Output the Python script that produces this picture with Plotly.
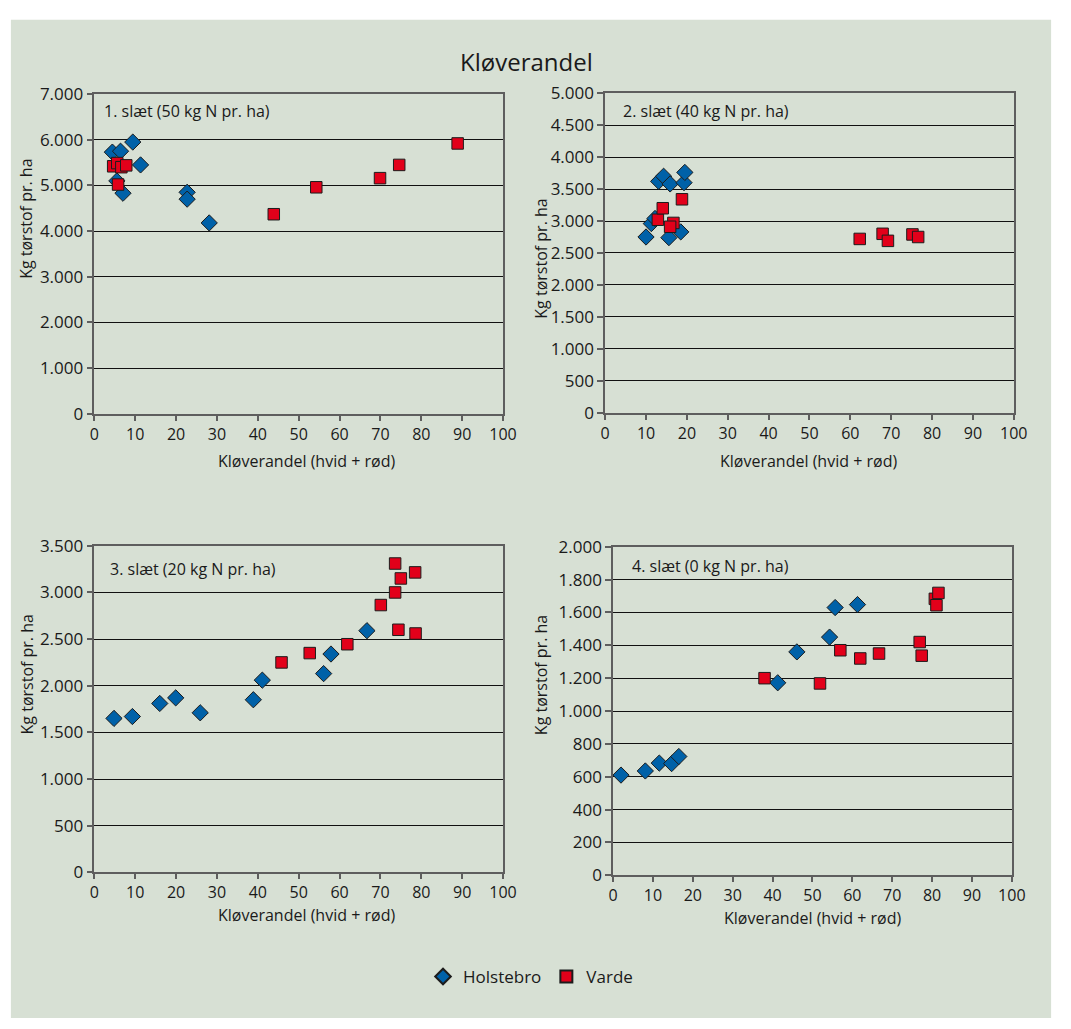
import plotly.graph_objects as go

W, H = 1071, 1029

# ---- data: clover share (%) vs. dry matter yield (kg/ha) ----
# 1. slæt
s1_holstebro_x = [4.4, 6.4, 9.4, 11.3, 5.5, 7.0, 22.7, 22.7, 28.1]
s1_holstebro_y = [5730, 5750, 5950, 5450, 5100, 4830, 4850, 4700, 4180]
s1_varde_x = [4.6, 5.6, 6.6, 7.8, 5.8, 43.9, 54.3, 69.9, 74.6, 88.9]
s1_varde_y = [5420, 5490, 5400, 5440, 5020, 4370, 4960, 5160, 5450, 5920]

# 2. slæt
s2_holstebro_x = [10.0, 11.3, 12.2, 13.1, 14.3, 15.9, 15.6, 18.5, 19.3, 19.5]
s2_holstebro_y = [2750, 2960, 3040, 3620, 3700, 3580, 2740, 2830, 3600, 3760]
s2_varde_x = [12.9, 14.1, 16.7, 15.9, 18.8, 62.3, 67.9, 69.2, 75.2, 76.6]
s2_varde_y = [3020, 3200, 2970, 2910, 3340, 2720, 2800, 2690, 2790, 2750]

# 3. slæt
s3_holstebro_x = [4.8, 9.3, 16.0, 19.9, 25.9, 38.9, 41.1, 56.1, 57.9, 66.7]
s3_holstebro_y = [1650, 1670, 1810, 1870, 1710, 1850, 2060, 2130, 2340, 2590]
s3_varde_x = [45.8, 52.7, 61.9, 70.1, 73.6, 73.6, 75.0, 74.4, 78.5, 78.6]
s3_varde_y = [2250, 2350, 2445, 2865, 3000, 3310, 3150, 2600, 3215, 2560]

# 4. slæt
s4_holstebro_x = [2.0, 8.1, 11.6, 14.7, 16.5, 41.3, 46.1, 54.3, 55.7, 61.3]
s4_holstebro_y = [610, 635, 683, 680, 723, 1172, 1360, 1450, 1630, 1648]
s4_varde_x = [38.0, 51.9, 57.0, 62.0, 66.7, 76.9, 77.4, 80.7, 81.1, 81.6]
s4_varde_y = [1200, 1168, 1370, 1320, 1350, 1420, 1337, 1683, 1644, 1719]

panel_labels = ["1. slæt (50 kg N pr. ha)", "2. slæt (40 kg N pr. ha)",
                "3. slæt (20 kg N pr. ha)", "4. slæt (0 kg N pr. ha)"]
y_max = [7000, 5000, 3500, 2000]
y_step = [1000, 500, 500, 200]
series_names = ["Holstebro", "Varde"]

chart_title = "Kløverandel"
x_title = "Kløverandel (hvid + rød)"
y_title = "Kg tørstof pr. ha"

panels = [
    (s1_holstebro_x, s1_holstebro_y, s1_varde_x, s1_varde_y),
    (s2_holstebro_x, s2_holstebro_y, s2_varde_x, s2_varde_y),
    (s3_holstebro_x, s3_holstebro_y, s3_varde_x, s3_varde_y),
    (s4_holstebro_x, s4_holstebro_y, s4_varde_x, s4_varde_y),
]

# ---- layout geometry (pixel boxes of each plot area: left, right, top, bottom) ----
boxes = [
    (91, 507, 84, 411),
    (611, 1027, 83, 410),
    (91, 507, 546, 880),
    (619, 1025, 547, 883),
]
label_pos = [(99, 101), (627, 101), (105, 570), (636, 567)]
ytitle_pos = [(22, 212), (546, 252), (22, 678), (546, 678)]
xtitle_pos = [(307, 459), (818, 459), (307, 924), (822, 927)]

BG = "#d7e0d4"
TXT = "#1a1a1a"
AX = "#5e5e5e"
BLUE = "#0061a8"
RED = "#e2001a"
FONT = "Open Sans"


def px(x):
    return x / W


def py(y):
    return 1 - y / H


fig = go.Figure()
layout_axes = {}
annotations = []

for i, (hx, hy, vx, vy) in enumerate(panels):
    n = "" if i == 0 else str(i + 1)
    xa, ya = "x" + n, "y" + n
    fig.add_trace(go.Scatter(
        x=hx, y=hy, mode="markers", name=series_names[0], xaxis=xa, yaxis=ya,
        showlegend=(i == 0), legendgroup="h",
        marker=dict(symbol="diamond", size=12.5, color=BLUE,
                    line=dict(color="#1c1c1c", width=1)),
    ))
    fig.add_trace(go.Scatter(
        x=vx, y=vy, mode="markers", name=series_names[1], xaxis=xa, yaxis=ya,
        showlegend=(i == 0), legendgroup="v",
        marker=dict(symbol="square", size=11.5, color=RED,
                    line=dict(color="#1c1c1c", width=1)),
    ))
    l, r, t, b = boxes[i]
    layout_axes["xaxis" + n] = dict(
        domain=[px(l), px(r)], range=[0, 100], dtick=10, tick0=0,
        anchor=ya, showgrid=False, zeroline=False,
        showline=True, linecolor=AX, linewidth=1.5, mirror=True,
        ticks="outside", ticklen=5, tickwidth=1.5, tickcolor=AX,
        tickfont=dict(family=FONT, size=16, color=TXT), fixedrange=True,
    )
    layout_axes["yaxis" + n] = dict(
        domain=[py(b), py(t)], range=[0, y_max[i]], dtick=y_step[i], tick0=0,
        anchor=xa, showgrid=True, gridcolor="#111111", gridwidth=1,
        zeroline=False, showline=True, linecolor=AX, linewidth=1.5, mirror=True,
        ticks="outside", ticklen=6, tickwidth=1.5, tickcolor=AX,
        tickformat=",d",
        tickfont=dict(family=FONT, size=17, color=TXT), fixedrange=True,
    )
    lx, ly = label_pos[i]
    annotations.append(dict(
        text=panel_labels[i], x=px(lx), y=py(ly), xref="paper", yref="paper",
        xanchor="left", yanchor="middle", showarrow=False,
        font=dict(family=FONT, size=16, color=TXT),
    ))
    tx, ty = ytitle_pos[i]
    annotations.append(dict(
        text=y_title, x=px(tx), y=py(ty), xref="paper", yref="paper",
        xanchor="center", yanchor="middle", textangle=-90, showarrow=False,
        font=dict(family=FONT, size=16, color=TXT),
    ))
    tx, ty = xtitle_pos[i]
    annotations.append(dict(
        text=x_title, x=px(tx), y=py(ty), xref="paper", yref="paper",
        xanchor="center", yanchor="middle", showarrow=False,
        font=dict(family=FONT, size=16, color=TXT),
    ))

annotations.append(dict(
    text=chart_title, x=px(531), y=py(51), xref="paper", yref="paper",
    xanchor="center", yanchor="middle", showarrow=False,
    font=dict(family=FONT, size=24, color=TXT),
))

fig.update_layout(
    width=W, height=H,
    margin=dict(l=0, r=0, t=0, b=0, pad=0),
    paper_bgcolor="white", plot_bgcolor=BG,
    separators=",.",
    annotations=annotations,
    shapes=[dict(type="rect", xref="paper", yref="paper",
                 x0=px(6), x1=px(1065), y0=py(1029), y1=py(8),
                 fillcolor=BG, line=dict(width=0), layer="below")],
    showlegend=True,
    legend=dict(orientation="h", x=px(535), y=py(987), xanchor="center",
                yanchor="middle", bgcolor="rgba(0,0,0,0)",
                font=dict(family=FONT, size=17, color=TXT),
                itemsizing="constant", itemwidth=30, tracegroupgap=0),
    **layout_axes,
)

# the figure fills the page exactly, so drop the default body margin
fig.write_html("out.html", post_script="document.body.style.margin='0';")
